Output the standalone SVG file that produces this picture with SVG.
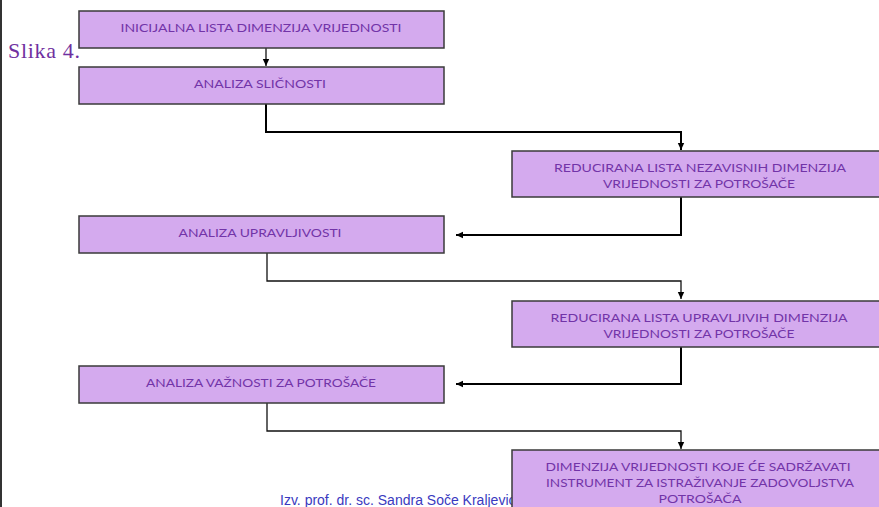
<svg xmlns="http://www.w3.org/2000/svg" width="879" height="507" viewBox="0 0 879 507">
<style>
.box{fill:#d4aaee;stroke:#3a3a3a;stroke-width:1.5}
.t{font-family:Lato,"Open Sans",sans-serif;font-size:12px;fill:#7234a8;text-anchor:middle}
.c{fill:none;stroke:#000;stroke-width:2}
.c1{fill:none;stroke:#111;stroke-width:1.3}
</style>
<defs>
<marker id="ah" markerWidth="8" markerHeight="8" refX="7" refY="4" orient="auto" markerUnits="userSpaceOnUse">
<path d="M0,0.8 L7,4 L0,7.2 Z" fill="#000"/>
</marker>
</defs>
<rect width="879" height="507" fill="#fff"/>
<line x1="1" y1="0" x2="1" y2="507" stroke="#333" stroke-width="2"/>
<text x="8" y="58" style="font-family:'Liberation Serif','Times New Roman',serif;font-size:22px" fill="#7030a0" textLength="72" lengthAdjust="spacing">Slika 4.</text>
<text x="280" y="505" style="font-family:'Liberation Sans',Arial,sans-serif;font-size:14px" fill="#3a3ac0">Izv. prof. dr. sc. Sandra Soče Kraljević</text>

<g id="connectors">
<path class="c1" d="M266,48 V66" marker-end="url(#ah)"/>
<path class="c" d="M266,104 V132 H681 V150" marker-end="url(#ah)"/>
<path class="c" d="M681,197 V235 H456" marker-end="url(#ah)"/>
<path class="c1" d="M267,253 V281 H681 V299" marker-end="url(#ah)"/>
<path class="c" d="M681,347 V384 H456" marker-end="url(#ah)"/>
<path class="c1" d="M267,403 V431 H681 V449" marker-end="url(#ah)"/>
</g>

<g id="n1"><rect class="box" x="79" y="11" width="365" height="37"/>
<text class="t" x="261" y="32" textLength="281" lengthAdjust="spacingAndGlyphs">INICIJALNA LISTA DIMENZIJA VRIJEDNOSTI</text></g>

<g id="n2"><rect class="box" x="79" y="67" width="365" height="37"/>
<text class="t" x="260" y="88" textLength="132" lengthAdjust="spacingAndGlyphs">ANALIZA  SLIČNOSTI</text></g>

<g id="n3"><rect class="box" x="512" y="151" width="372" height="46"/>
<text class="t" x="700" y="172" textLength="292" lengthAdjust="spacingAndGlyphs">REDUCIRANA LISTA NEZAVISNIH DIMENZIJA</text>
<text class="t" x="699" y="188" textLength="192" lengthAdjust="spacingAndGlyphs">VRIJEDNOSTI ZA POTROŠAČE</text></g>

<g id="n4"><rect class="box" x="79" y="216" width="365" height="37"/>
<text class="t" x="260" y="237" textLength="163" lengthAdjust="spacingAndGlyphs">ANALIZA UPRAVLJIVOSTI</text></g>

<g id="n5"><rect class="box" x="512" y="301" width="372" height="46"/>
<text class="t" x="699" y="322" textLength="297" lengthAdjust="spacingAndGlyphs">REDUCIRANA LISTA UPRAVLJIVIH DIMENZIJA</text>
<text class="t" x="699" y="338" textLength="191" lengthAdjust="spacingAndGlyphs">VRIJEDNOSTI ZA POTROŠAČE</text></g>

<g id="n6"><rect class="box" x="79" y="366" width="365" height="37"/>
<text class="t" x="261" y="387" textLength="230" lengthAdjust="spacingAndGlyphs">ANALIZA VAŽNOSTI ZA POTROŠAČE</text></g>

<g id="n7"><rect class="box" x="512" y="450" width="372" height="62"/>
<text class="t" x="698" y="471" textLength="305" lengthAdjust="spacingAndGlyphs">DIMENZIJA VRIJEDNOSTI KOJE ĆE SADRŽAVATI</text>
<text class="t" x="700" y="487" textLength="308" lengthAdjust="spacingAndGlyphs">INSTRUMENT ZA ISTRAŽIVANJE ZADOVOLJSTVA</text>
<text class="t" x="700" y="503" textLength="83" lengthAdjust="spacingAndGlyphs">POTROŠAČA</text></g>
</svg>
